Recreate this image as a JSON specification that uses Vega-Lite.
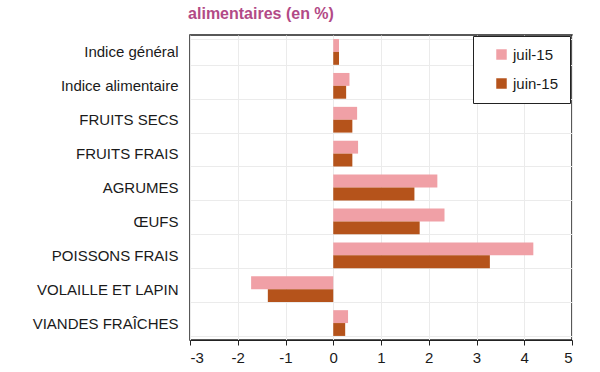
{
  "$schema": "https://vega.github.io/schema/vega-lite/v6.json",
  "autosize": {"type": "none"},
  "width": 382,
  "height": 305,
  "padding": {"left": 190, "top": 35, "right": 28, "bottom": 32},
  "background": "white",
  "title": {
    "text": "alimentaires (en %)",
    "color": "#b24a86",
    "fontSize": 16,
    "fontWeight": "bold",
    "font": "Liberation Sans",
    "anchor": "middle",
    "frame": "group",
    "dx": -120,
    "offset": 6
  },
  "data": {
    "values": [
      {"cat": "Indice général", "serie": "juil-15", "v": 0.12},
      {"cat": "Indice général", "serie": "juin-15", "v": 0.12},
      {"cat": "Indice alimentaire", "serie": "juil-15", "v": 0.34},
      {"cat": "Indice alimentaire", "serie": "juin-15", "v": 0.27},
      {"cat": "FRUITS SECS", "serie": "juil-15", "v": 0.5},
      {"cat": "FRUITS SECS", "serie": "juin-15", "v": 0.4},
      {"cat": "FRUITS FRAIS", "serie": "juil-15", "v": 0.52},
      {"cat": "FRUITS FRAIS", "serie": "juin-15", "v": 0.4},
      {"cat": "AGRUMES", "serie": "juil-15", "v": 2.18},
      {"cat": "AGRUMES", "serie": "juin-15", "v": 1.7},
      {"cat": "ŒUFS", "serie": "juil-15", "v": 2.33},
      {"cat": "ŒUFS", "serie": "juin-15", "v": 1.81},
      {"cat": "POISSONS FRAIS", "serie": "juil-15", "v": 4.19},
      {"cat": "POISSONS FRAIS", "serie": "juin-15", "v": 3.28},
      {"cat": "VOLAILLE ET LAPIN", "serie": "juil-15", "v": -1.72},
      {"cat": "VOLAILLE ET LAPIN", "serie": "juin-15", "v": -1.37},
      {"cat": "VIANDES FRAÎCHES", "serie": "juil-15", "v": 0.31},
      {"cat": "VIANDES FRAÎCHES", "serie": "juin-15", "v": 0.25}
    ]
  },
  "mark": {"type": "bar"},
  "encoding": {
    "y": {
      "field": "cat",
      "type": "nominal",
      "sort": null,
      "scale": {"paddingInner": 0.24, "paddingOuter": 0.12},
      "axis": {
        "title": null,
        "labelFont": "Liberation Sans",
        "labelFontSize": 15,
        "labelColor": "#1a1a1a",
        "labelPadding": 12,
        "labelLimit": 200,
        "ticks": false,
        "domain": false,
        "grid": true,
        "tickBand": "extent",
        "gridColor": "#ebebeb",
        "gridWidth": 1
      }
    },
    "yOffset": {"field": "serie", "type": "nominal", "sort": ["juil-15", "juin-15"]},
    "x": {
      "field": "v",
      "type": "quantitative",
      "scale": {"domain": [-3, 5], "nice": false},
      "axis": {
        "title": null,
        "values": [-3, -2, -1, 0, 1, 2, 3, 4, 5],
        "labelExpr": "'' + datum.value",
        "labelFont": "Liberation Sans",
        "labelFontSize": 15,
        "labelColor": "#1a1a1a",
        "tickColor": "#222",
        "tickSize": 5,
        "domainColor": "#222",
        "gridColor": "#ebebeb",
        "labelPadding": 5
      }
    },
    "color": {
      "field": "serie",
      "type": "nominal",
      "sort": ["juil-15", "juin-15"],
      "scale": {"domain": ["juil-15", "juin-15"], "range": ["#f0a0a6", "#b5531b"]},
      "legend": {
        "title": null,
        "orient": "none",
        "legendX": 283,
        "legendY": 1,
        "symbolType": "square",
        "symbolSize": 110,
        "symbolOffset": 10,
        "labelOffset": 4,
        "labelFont": "Liberation Sans",
        "labelFontSize": 15,
        "labelColor": "#1a1a1a",
        "rowPadding": 13,
        "strokeColor": "#222",
        "padding": 11,
        "fillColor": "white"
      }
    }
  },
  "config": {
    "view": {"stroke": "#222", "strokeWidth": 1.5}
  }
}
